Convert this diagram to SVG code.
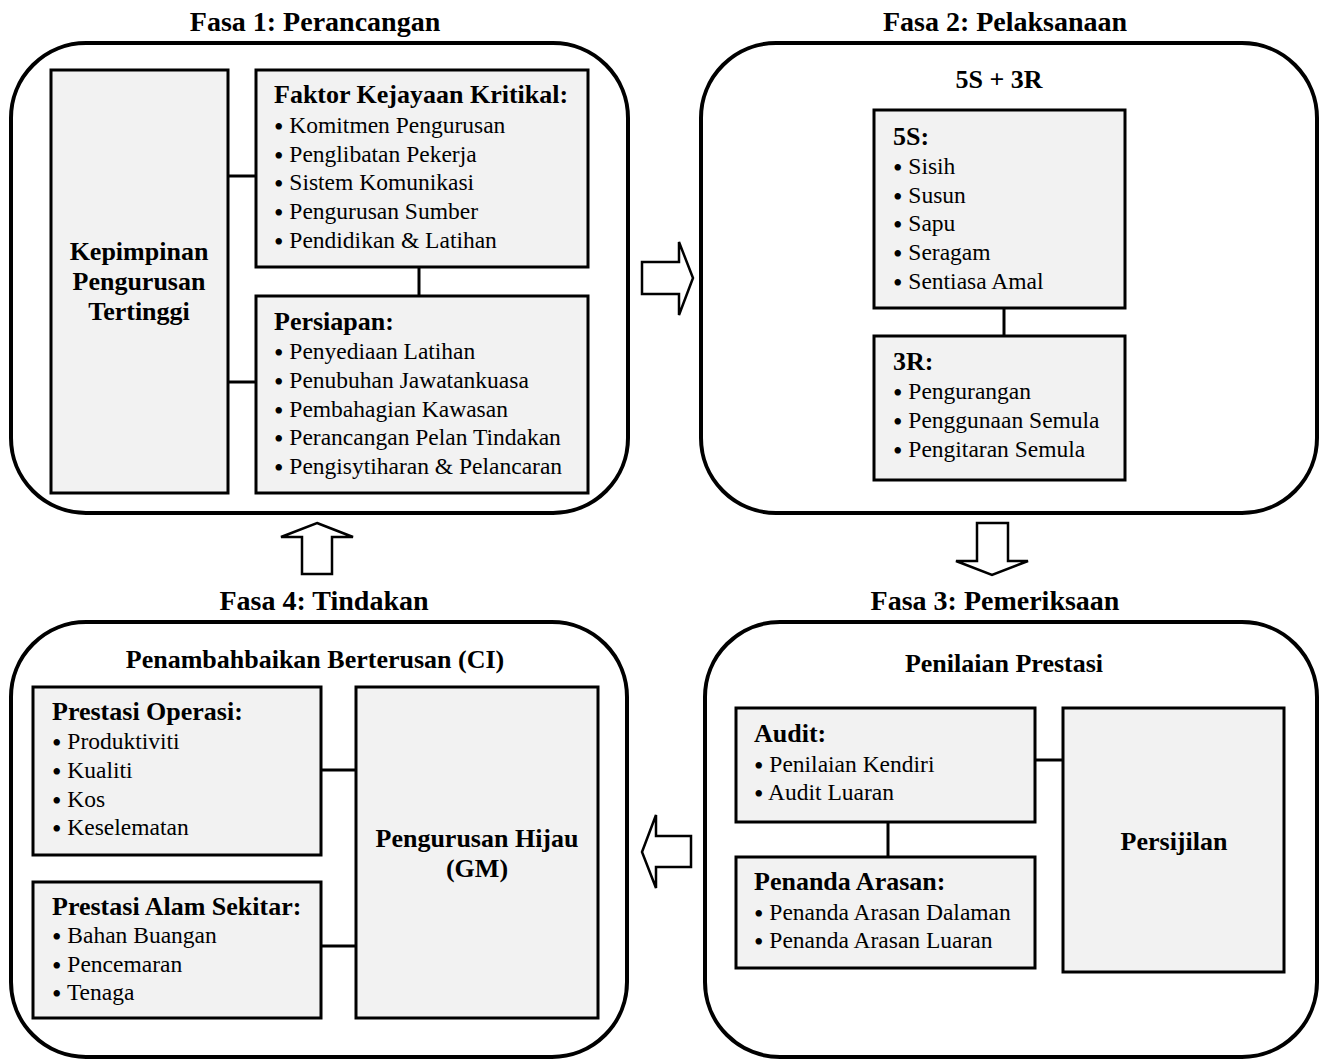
<svg xmlns="http://www.w3.org/2000/svg" width="1321" height="1061" viewBox="0 0 1321 1061">
<style>
text{font-family:"Liberation Serif","Times New Roman",serif;fill:#000}
.t{font-size:28px;font-weight:bold;text-anchor:middle}
.h{font-size:26px;font-weight:bold}
.hc{font-size:26px;font-weight:bold;text-anchor:middle}
.b{font-size:23.5px}
.bu{font-size:27px}
.outer{fill:#fff;stroke:#000;stroke-width:4}
.box{fill:#f2f2f2;stroke:#000;stroke-width:3}
.ln{stroke:#000;stroke-width:3;fill:none}
.arr{fill:#fff;stroke:#000;stroke-width:2.5;stroke-linejoin:miter}
</style>
<rect width="1321" height="1061" fill="#fff"/>

<g id="phase1">
<text class="t" x="315" y="31">Fasa 1: Perancangan</text>
<rect class="outer" x="11" y="43" width="617" height="470" rx="75" ry="75"/>
</g>
<g id="phase2">
<text class="t" x="1005" y="31">Fasa 2: Pelaksanaan</text>
<rect class="outer" x="701" y="43" width="616" height="470" rx="75" ry="75"/>
<text class="hc" x="999" y="88">5S + 3R</text>
</g>
<g id="phase3">
<text class="t" x="995" y="610">Fasa 3: Pemeriksaan</text>
<rect class="outer" x="705" y="622" width="612" height="435" rx="75" ry="75"/>
<text class="hc" x="1004" y="672">Penilaian Prestasi</text>
</g>
<g id="phase4">
<text class="t" x="324" y="610">Fasa 4: Tindakan</text>
<rect class="outer" x="11" y="622" width="616" height="435" rx="75" ry="75"/>
<text class="hc" x="315" y="668">Penambahbaikan Berterusan (CI)</text>
</g>

<g id="connectors">
<line class="ln" x1="228" y1="176" x2="256" y2="176"/>
<line class="ln" x1="228" y1="382" x2="256" y2="382"/>
<line class="ln" x1="419" y1="267" x2="419" y2="296"/>
<line class="ln" x1="1004" y1="308" x2="1004" y2="336"/>
<line class="ln" x1="1035" y1="760" x2="1063" y2="760"/>
<line class="ln" x1="888" y1="822" x2="888" y2="857"/>
<line class="ln" x1="321" y1="770" x2="356" y2="770"/>
<line class="ln" x1="321" y1="946" x2="356" y2="946"/>
<polygon class="arr" points="642,262 679,262 679,242 693,278 679,315 679,294 642,294"/>
<polygon class="arr" points="317,523 353,537 332,537 332,574 302,574 302,537 281,537"/>
<polygon class="arr" points="977,523 1008,523 1008,561 1028,561 992,575 956,561 977,561"/>
<polygon class="arr" points="642,852 656,815 656,836 691,836 691,867 656,867 656,888"/>
</g>

<g id="kepimpinan">
<rect class="box" x="51" y="70" width="177" height="423"/>
<text class="hc" x="139" y="260">Kepimpinan</text>
<text class="hc" x="139" y="290">Pengurusan</text>
<text class="hc" x="139" y="320">Tertinggi</text>
</g>
<g id="faktor">
<rect class="box" x="256" y="70" width="332" height="197"/>
<text class="h" x="274" y="103">Faktor Kejayaan Kritikal:</text>
<text class="b" x="274" y="133"><tspan class="bu" dy="3">•</tspan><tspan dy="-3"> Komitmen Pengurusan</tspan></text>
<text class="b" x="274" y="162"><tspan class="bu" dy="3">•</tspan><tspan dy="-3"> Penglibatan Pekerja</tspan></text>
<text class="b" x="274" y="190"><tspan class="bu" dy="3">•</tspan><tspan dy="-3"> Sistem Komunikasi</tspan></text>
<text class="b" x="274" y="219"><tspan class="bu" dy="3">•</tspan><tspan dy="-3"> Pengurusan Sumber</tspan></text>
<text class="b" x="274" y="248"><tspan class="bu" dy="3">•</tspan><tspan dy="-3"> Pendidikan &amp; Latihan</tspan></text>
</g>
<g id="persiapan">
<rect class="box" x="256" y="296" width="332" height="197"/>
<text class="h" x="274" y="330">Persiapan:</text>
<text class="b" x="274" y="359"><tspan class="bu" dy="3">•</tspan><tspan dy="-3"> Penyediaan Latihan</tspan></text>
<text class="b" x="274" y="388"><tspan class="bu" dy="3">•</tspan><tspan dy="-3"> Penubuhan Jawatankuasa</tspan></text>
<text class="b" x="274" y="417"><tspan class="bu" dy="3">•</tspan><tspan dy="-3"> Pembahagian Kawasan</tspan></text>
<text class="b" x="274" y="445"><tspan class="bu" dy="3">•</tspan><tspan dy="-3"> Perancangan Pelan Tindakan</tspan></text>
<text class="b" x="274" y="474"><tspan class="bu" dy="3">•</tspan><tspan dy="-3"> Pengisytiharan &amp; Pelancaran</tspan></text>
</g>

<g id="box5s">
<rect class="box" x="874" y="110" width="251" height="198"/>
<text class="h" x="893" y="145">5S:</text>
<text class="b" x="893" y="174"><tspan class="bu" dy="3">•</tspan><tspan dy="-3"> Sisih</tspan></text>
<text class="b" x="893" y="203"><tspan class="bu" dy="3">•</tspan><tspan dy="-3"> Susun</tspan></text>
<text class="b" x="893" y="231"><tspan class="bu" dy="3">•</tspan><tspan dy="-3"> Sapu</tspan></text>
<text class="b" x="893" y="260"><tspan class="bu" dy="3">•</tspan><tspan dy="-3"> Seragam</tspan></text>
<text class="b" x="893" y="289"><tspan class="bu" dy="3">•</tspan><tspan dy="-3"> Sentiasa Amal</tspan></text>
</g>
<g id="box3r">
<rect class="box" x="874" y="336" width="251" height="144"/>
<text class="h" x="893" y="370">3R:</text>
<text class="b" x="893" y="399"><tspan class="bu" dy="3">•</tspan><tspan dy="-3"> Pengurangan</tspan></text>
<text class="b" x="893" y="428"><tspan class="bu" dy="3">•</tspan><tspan dy="-3"> Penggunaan Semula</tspan></text>
<text class="b" x="893" y="457"><tspan class="bu" dy="3">•</tspan><tspan dy="-3"> Pengitaran Semula</tspan></text>
</g>

<g id="audit">
<rect class="box" x="736" y="708" width="299" height="114"/>
<text class="h" x="754" y="742">Audit:</text>
<text class="b" x="754" y="772"><tspan class="bu" dy="3">•</tspan><tspan dy="-3"> Penilaian Kendiri</tspan></text>
<text class="b" x="754" y="800"><tspan class="bu" dy="3">•</tspan><tspan dy="-3"> Audit Luaran</tspan></text>
</g>
<g id="penanda">
<rect class="box" x="736" y="857" width="299" height="111"/>
<text class="h" x="754" y="890">Penanda Arasan:</text>
<text class="b" x="754" y="920"><tspan class="bu" dy="3">•</tspan><tspan dy="-3"> Penanda Arasan Dalaman</tspan></text>
<text class="b" x="754" y="948"><tspan class="bu" dy="3">•</tspan><tspan dy="-3"> Penanda Arasan Luaran</tspan></text>
</g>
<g id="persijilan">
<rect class="box" x="1063" y="708" width="221" height="264"/>
<text class="hc" x="1174" y="850">Persijilan</text>
</g>

<g id="operasi">
<rect class="box" x="33" y="687" width="288" height="168"/>
<text class="h" x="52" y="720">Prestasi Operasi:</text>
<text class="b" x="52" y="749"><tspan class="bu" dy="3">•</tspan><tspan dy="-3"> Produktiviti</tspan></text>
<text class="b" x="52" y="778"><tspan class="bu" dy="3">•</tspan><tspan dy="-3"> Kualiti</tspan></text>
<text class="b" x="52" y="807"><tspan class="bu" dy="3">•</tspan><tspan dy="-3"> Kos</tspan></text>
<text class="b" x="52" y="835"><tspan class="bu" dy="3">•</tspan><tspan dy="-3"> Keselematan</tspan></text>
</g>
<g id="alam">
<rect class="box" x="33" y="882" width="288" height="136"/>
<text class="h" x="52" y="915">Prestasi Alam Sekitar:</text>
<text class="b" x="52" y="943"><tspan class="bu" dy="3">•</tspan><tspan dy="-3"> Bahan Buangan</tspan></text>
<text class="b" x="52" y="972"><tspan class="bu" dy="3">•</tspan><tspan dy="-3"> Pencemaran</tspan></text>
<text class="b" x="52" y="1000"><tspan class="bu" dy="3">•</tspan><tspan dy="-3"> Tenaga</tspan></text>
</g>
<g id="gm">
<rect class="box" x="356" y="687" width="242" height="331"/>
<text class="hc" x="477" y="847">Pengurusan Hijau</text>
<text class="hc" x="477" y="877">(GM)</text>
</g>
</svg>
